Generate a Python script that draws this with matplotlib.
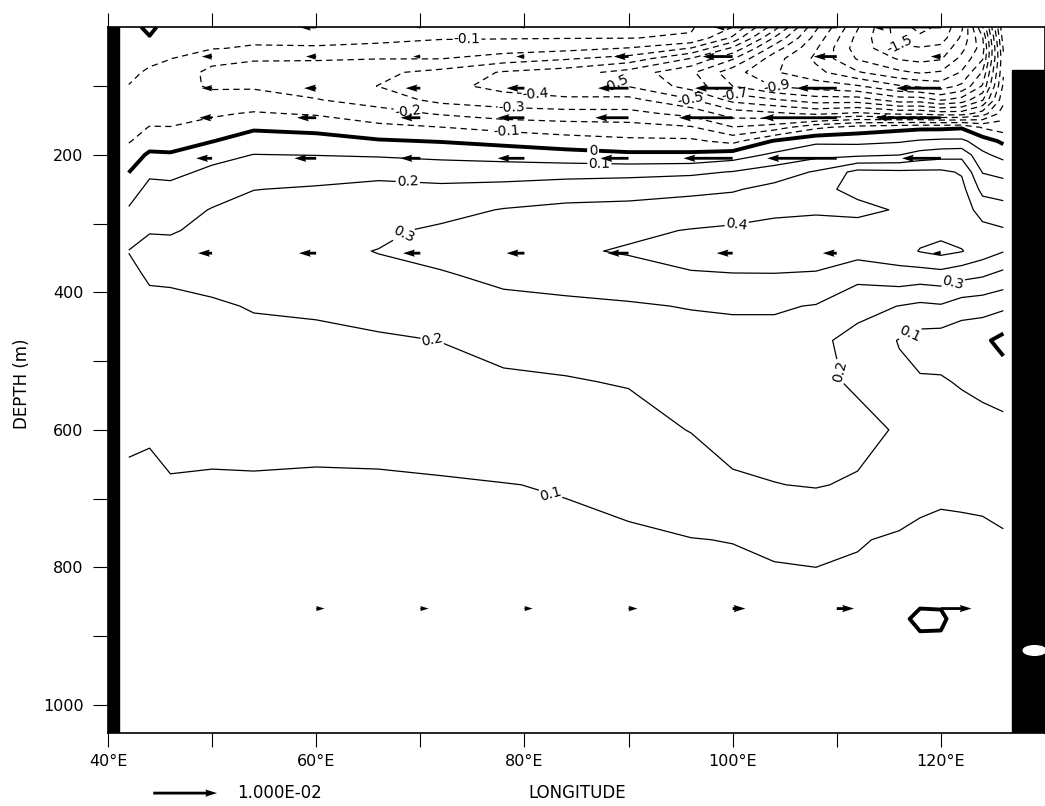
import numpy as np
import matplotlib.pyplot as plt
from matplotlib.patches import Rectangle, Ellipse

# section grid (longitude in degrees east, depth in m)
lons = [42, 44, 46, 50, 54, 60, 66, 72, 78, 84, 90, 96, 100, 104, 108, 112, 116, 118, 120, 122, 124, 126]
depths = [14, 30, 45, 60, 80, 100, 120, 140, 160, 180, 200, 225, 250, 280, 310,
          340, 375, 420, 470, 530, 600, 680, 760, 830, 875, 920, 1040]

# contoured field, one profile per longitude (top to bottom)
p042 = [-0.03, -0.05, -0.06, -0.07, -0.085, -0.102, -0.115, -0.12, -0.12, -0.108, -0.05, -0.002, 0.05, 0.11,
        0.16, 0.202, 0.18, 0.16, 0.145, 0.13, 0.11, 0.09, 0.075, 0.062, 0.056, 0.05, 0.04]
p044 = [0.02, -0.005, -0.06, -0.085, -0.11, -0.13, -0.135, -0.12, -0.098, -0.045, 0.015, 0.08, 0.13, 0.165,
        0.195, 0.225, 0.21, 0.18, 0.16, 0.14, 0.105, 0.09, 0.075, 0.062, 0.056, 0.05, 0.04]
p046 = [-0.04, -0.06, -0.08, -0.098, -0.14, -0.17, -0.155, -0.13, -0.098, -0.045, 0.01, 0.075, 0.125, 0.16,
        0.19, 0.235, 0.21, 0.185, 0.165, 0.145, 0.12, 0.095, 0.08, 0.066, 0.059, 0.053, 0.045]
p050 = [-0.05, -0.07, -0.095, -0.17, -0.225, -0.21, -0.17, -0.115, -0.06, -0.003, 0.07, 0.12, 0.16, 0.205,
        0.23, 0.25, 0.225, 0.19, 0.17, 0.15, 0.125, 0.09, 0.077, 0.064, 0.057, 0.052, 0.045]
p054 = [-0.06, -0.08, -0.11, -0.19, -0.245, -0.21, -0.165, -0.09, -0.015, 0.05, 0.102, 0.15, 0.198, 0.235,
        0.26, 0.27, 0.25, 0.205, 0.18, 0.16, 0.13, 0.09, 0.077, 0.064, 0.057, 0.052, 0.045]
p060 = [-0.07, -0.085, -0.105, -0.19, -0.26, -0.245, -0.195, -0.11, -0.03, 0.04, 0.098, 0.16, 0.21, 0.245,
        0.27, 0.285, 0.26, 0.21, 0.185, 0.165, 0.125, 0.088, 0.076, 0.064, 0.057, 0.052, 0.045]
p066 = [-0.075, -0.09, -0.11, -0.198, -0.28, -0.302, -0.245, -0.16, -0.075, 0.01, 0.09, 0.17, 0.23, 0.265,
        0.285, 0.302, 0.285, 0.23, 0.19, 0.17, 0.13, 0.088, 0.076, 0.064, 0.057, 0.052, 0.045]
p072 = [-0.08, -0.095, -0.13, -0.198, -0.33, -0.37, -0.33, -0.21, -0.098, -0.005, 0.075, 0.16, 0.22, 0.27,
        0.315, 0.335, 0.29, 0.24, 0.201, 0.18, 0.14, 0.092, 0.078, 0.065, 0.058, 0.053, 0.046]
p078 = [-0.085, -0.095, -0.15, -0.25, -0.41, -0.43, -0.36, -0.25, -0.13, -0.03, 0.06, 0.16, 0.23, 0.305,
        0.35, 0.37, 0.325, 0.27, 0.22, 0.19, 0.15, 0.098, 0.08, 0.067, 0.06, 0.055, 0.047]
p084 = [-0.09, -0.097, -0.17, -0.29, -0.45, -0.47, -0.38, -0.265, -0.15, -0.06, 0.04, 0.165, 0.25, 0.325,
        0.36, 0.385, 0.34, 0.28, 0.23, 0.195, 0.16, 0.105, 0.085, 0.07, 0.063, 0.058, 0.05]
p090 = [-0.09, -0.098, -0.205, -0.34, -0.54, -0.505, -0.37, -0.27, -0.16, -0.08, 0.02, 0.17, 0.26, 0.33,
        0.38, 0.41, 0.355, 0.29, 0.245, 0.205, 0.17, 0.12, 0.09, 0.073, 0.066, 0.061, 0.052]
p096 = [-0.09, -0.11, -0.305, -0.505, -0.68, -0.64, -0.49, -0.33, -0.19, -0.08, 0.02, 0.18, 0.28, 0.34,
        0.405, 0.44, 0.39, 0.305, 0.26, 0.23, 0.203, 0.15, 0.098, 0.076, 0.068, 0.063, 0.055]
p100 = [-0.2, -0.32, -0.52, -0.69, -0.86, -0.8, -0.63, -0.45, -0.295, -0.13, 0.05, 0.205, 0.29, 0.36,
        0.415, 0.45, 0.395, 0.31, 0.27, 0.245, 0.225, 0.19, 0.102, 0.078, 0.07, 0.065, 0.057]
p104 = [-0.55, -0.71, -0.85, -0.96, -0.99, -0.905, -0.69, -0.48, -0.25, 0.01, 0.12, 0.25, 0.33, 0.38,
        0.43, 0.46, 0.395, 0.31, 0.27, 0.25, 0.235, 0.198, 0.115, 0.082, 0.072, 0.066, 0.058]
p108 = [-0.98, -1.04, -1.09, -1.12, -1.07, -0.95, -0.75, -0.52, -0.12, 0.08, 0.17, 0.31, 0.37, 0.39,
        0.43, 0.45, 0.39, 0.295, 0.22, 0.225, 0.235, 0.205, 0.12, 0.085, 0.075, 0.068, 0.06]
p112 = [-1.29, -1.33, -1.35, -1.31, -1.19, -0.99, -0.75, -0.48, -0.06, 0.075, 0.18, 0.43, 0.43, 0.37,
        0.45, 0.44, 0.33, 0.23, 0.17, 0.185, 0.23, 0.19, 0.105, 0.085, 0.075, 0.068, 0.06]
p116 = [-1.56, -1.54, -1.48, -1.41, -1.28, -1.09, -0.85, -0.52, -0.03, 0.09, 0.198, 0.42, 0.44, 0.41,
        0.45, 0.46, 0.36, 0.198, 0.095, 0.12, 0.19, 0.15, 0.09, 0.06, 0.02, 0.045, 0.045]
p118 = [-1.63, -1.58, -1.49, -1.43, -1.31, -1.12, -0.85, -0.52, -0.02, 0.11, 0.24, 0.42, 0.45, 0.46,
        0.47, 0.505, 0.35, 0.18, 0.06, 0.11, 0.17, 0.13, 0.08, 0.04, -0.02, 0.03, 0.04]
p120 = [-1.58, -1.55, -1.47, -1.41, -1.29, -1.15, -0.91, -0.55, -0.02, 0.12, 0.26, 0.42, 0.45, 0.46,
        0.47, 0.53, 0.36, 0.19, 0.05, 0.11, 0.16, 0.12, 0.075, 0.035, -0.015, 0.025, 0.04]
p122 = [-1.42, -1.38, -1.33, -1.27, -1.19, -1.08, -0.86, -0.55, -0.01, 0.12, 0.27, 0.39, 0.43, 0.45,
        0.46, 0.505, 0.33, 0.15, 0.03, 0.09, 0.15, 0.12, 0.08, 0.05, 0.04, 0.04, 0.04]
p124 = [-1.01, -1.11, -1.15, -1.11, -0.99, -0.89, -0.71, -0.45, -0.11, 0.05, 0.12, 0.195, 0.27, 0.36,
        0.43, 0.45, 0.31, 0.14, 0.02, 0.07, 0.14, 0.12, 0.085, 0.06, 0.055, 0.05, 0.045]
p126 = [-0.31, -0.35, -0.39, -0.42, -0.41, -0.38, -0.33, -0.25, -0.15, -0.02, 0.07, 0.17, 0.25, 0.34,
        0.41, 0.405, 0.27, 0.12, -0.03, 0.05, 0.13, 0.12, 0.095, 0.07, 0.06, 0.055, 0.05]

# velocity vectors (m/s), tail at the grid point; nan = no arrow drawn
vec_lons = [50, 60, 70, 80, 90, 100, 110, 120]
vec_depths = [14, 57, 103, 146, 205, 343, 860]
u_14 = [np.nan, -0.0027, -0.0008, -0.0008, -0.0005, -0.0005, -0.0194, -0.0108]
u_57 = [-0.0016, -0.0016, -0.0011, -0.0013, -0.0023, -0.0047, -0.0036, -0.0016]
u_103 = [-0.0016, -0.0019, -0.0023, -0.0028, -0.0048, -0.0059, -0.0063, -0.0070]
u_146 = [-0.0020, -0.0030, -0.0031, -0.0042, -0.0052, -0.0084, -0.0117, -0.0103]
u_205 = [-0.0025, -0.0034, -0.0031, -0.0042, -0.0044, -0.0077, -0.0109, -0.0061]
u_343 = [-0.0022, -0.0027, -0.0027, -0.0028, -0.0033, -0.0025, -0.0022, -0.0013]
u_860 = [np.nan, 0.0013, 0.0013, 0.0013, 0.0014, 0.0020, 0.0027, 0.0048]

# where the contour labels sit (lon, depth)
neg_label_pos = [(74.5, 37), (68.8, 137), (78.8, 132), (81.1, 113), (88.5, 103),
                 (96.1, 113), (100.2, 108), (104.3, 98), (116, 40), (78.3, 168)]
zero_label_pos = [(86.6, 193)]
pos_label_pos = [(87.2, 212), (68.8, 240), (68.7, 324), (71.2, 465), (100.4, 302),
                 (121.2, 387), (116.6, 443), (110.9, 513), (82.6, 688)]

field = np.column_stack([p042, p044, p046, p050, p054, p060, p066, p072, p078, p084, p090,
                         p096, p100, p104, p108, p112, p116, p118, p120, p122, p124, p126])

plt.rcParams['font.family'] = 'DejaVu Sans'
fig = plt.figure(figsize=(10.45, 8.06), dpi=100)
ax = fig.add_axes([0.1033, 0.0906, 0.8967, 0.8759])

neg_levels = np.round(np.arange(-1.6, -0.05, 0.1), 1)
pos_levels = np.round(np.arange(0.1, 0.65, 0.1), 1)

cn = ax.contour(lons, depths, field, levels=neg_levels, colors='black',
                linewidths=0.9, linestyles=[(0, (5, 3.5))])
cz = ax.contour(lons, depths, field, levels=[0.0], colors='black', linewidths=2.8)
cp = ax.contour(lons, depths, field, levels=pos_levels, colors='black', linewidths=0.9)


def fmt(v):
    return '0' if abs(v) < 1e-6 else f'{v:.1f}'


ax.clabel(cn, manual=neg_label_pos, fmt=fmt, fontsize=10, inline_spacing=2)
ax.clabel(cz, manual=zero_label_pos, fmt=fmt, fontsize=10, inline_spacing=2)
ax.clabel(cp, manual=pos_label_pos, fmt=fmt, fontsize=10, inline_spacing=2)

# vectors
X, Y = np.meshgrid(vec_lons, vec_depths)
U = np.ma.masked_invalid(np.array([u_14, u_57, u_103, u_146, u_205, u_343, u_860]))
V = np.zeros(U.shape)
Q = ax.quiver(X, Y, U, V, pivot='tail', angles='xy', scale_units='x', scale=0.01 / 6.13,
              width=0.003, headwidth=2.6, headlength=4.2, headaxislength=3.8,
              color='black', zorder=4)
ax.quiverkey(Q, 0.2077, 0.016, 0.01, '1.000E-02', labelpos='E', coordinates='figure',
             labelsep=0.2, fontproperties={'size': 12})

# land
ax.add_patch(Rectangle((40, 0), 1.05, 1100, color='black', zorder=5))
ax.add_patch(Rectangle((126.8, 77), 4, 1000, color='black', zorder=5))
ax.add_patch(Ellipse((129.0, 921), 2.2, 14, color='white', zorder=6))

ax.set_xlim(40, 130)
ax.set_ylim(1041, 14)

ax.set_xticks([40, 60, 80, 100, 120])
ax.set_xticklabels([f'{v}°E' for v in [40, 60, 80, 100, 120]])
ax.set_xticks([50, 70, 90, 110], minor=True)
ax.tick_params(axis='x', which='both', direction='out', length=10, width=0.8,
               top=True, bottom=True, labelsize=11.5, pad=5)
ax.set_yticks([200, 400, 600, 800, 1000])
ax.set_yticks([100, 300, 500, 700, 900], minor=True)
ax.tick_params(axis='y', which='both', direction='out', length=10.5, width=0.8,
               left=True, right=False, labelsize=11.5, pad=7)
for s in ax.spines.values():
    s.set_linewidth(1.2)

fig.text(0.021, 0.524, 'DEPTH (m)', rotation=90, ha='center', va='center', fontsize=12)
fig.text(0.552, 0.016, 'LONGITUDE', ha='center', va='center', fontsize=12)

fig.savefig('out.png', dpi=100)
